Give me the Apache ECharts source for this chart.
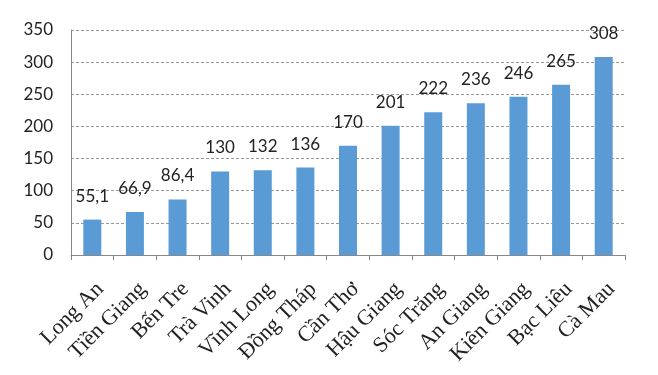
<!DOCTYPE html>
<html><head><meta charset="utf-8">
<script src="https://cdn.jsdelivr.net/npm/echarts@6/dist/echarts.min.js"></script>
<style>html,body{margin:0;padding:0;background:#fff}#c{width:658px;height:375px}</style>
</head><body><div id="c"></div>
<script>
const categories = ['Long An','Tiền Giang','Bến Tre','Trà Vinh','Vĩnh Long','Đồng Tháp','Cần Thơ','Hậu Giang','Sóc Trăng','An Giang','Kiên Giang','Bạc Liêu','Cà Mau'];
const values = [55.1, 66.9, 86.4, 130, 132, 136, 170, 201, 222, 236, 246, 265, 308];
const yTicks = [0, 50, 100, 150, 200, 250, 300, 350];

const chart = echarts.init(document.getElementById('c'));
chart.setOption({
  animation: false,
  grid: {left: 71, right: 33, top: 30, bottom: 120},
  xAxis: {
    type: 'category', data: categories,
    axisLine: {lineStyle: {color: '#888', width: 1}},
    axisTick: {show: true, alignWithLabel: false, length: 5, lineStyle: {color: '#888'}},
    axisLabel: {rotate: 45, interval: 0, margin: 23, align: 'right', verticalAlign: 'top',
      padding: [0, 0, 0, 0],
      color: '#222', fontFamily: 'Liberation Serif', fontSize: 22}
  },
  yAxis: {
    type: 'value', min: 0, max: 350, interval: 50,
    axisLine: {show: true, lineStyle: {color: '#888'}},
    axisTick: {show: false},
    splitLine: {lineStyle: {color: '#999', type: [3, 2]}},
    axisLabel: {color: '#222', fontFamily: 'Lato', fontSize: 17, margin: 18,
      formatter: v => yTicks.includes(v) ? String(v) : ''}
  },
  series: [{
    type: 'bar', data: values, barWidth: 18,
    itemStyle: {color: '#5B9BD5'},
    label: {show: true, position: 'top', distance: 15, color: '#222', fontFamily: 'Lato', fontSize: 17,
      formatter: p => String(p.value).replace('.', ',')}
  }]
});
</script></body></html>
